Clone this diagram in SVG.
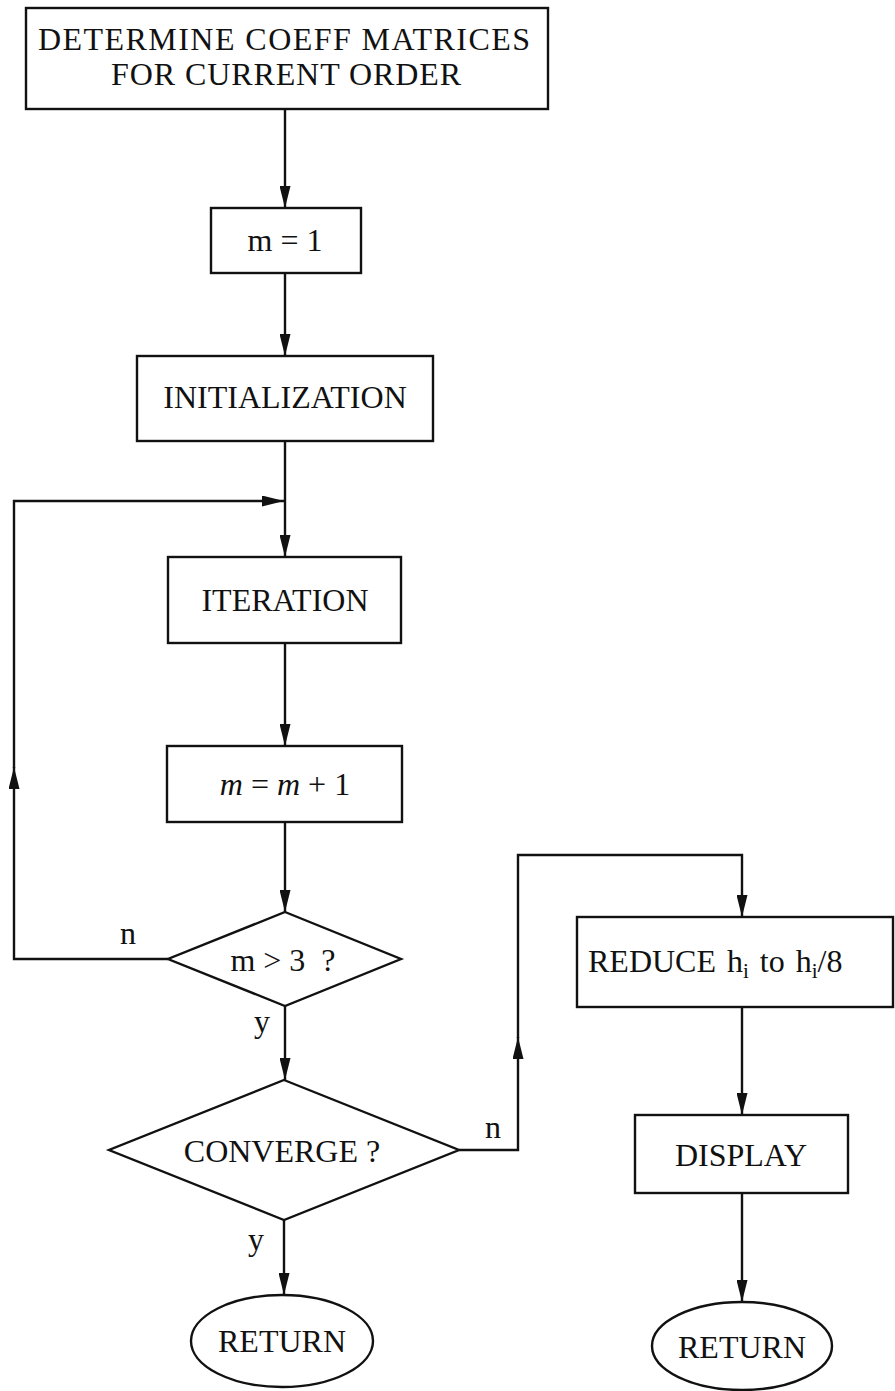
<svg xmlns="http://www.w3.org/2000/svg" width="895" height="1391" viewBox="0 0 895 1391">
<defs>
<style>
.box{fill:#fff;stroke:#111;stroke-width:2.4}
.ln{fill:none;stroke:#111;stroke-width:2.4}
.t{font-family:"Liberation Serif","Times New Roman",serif;font-size:32px;fill:#111;text-anchor:middle}
.lb{font-family:"Liberation Serif","Times New Roman",serif;font-size:32px;fill:#111}
.sub{font-size:21px}
</style>
<marker id="ah" markerUnits="userSpaceOnUse" markerWidth="22" markerHeight="11" viewBox="0 0 22 11" refX="22" refY="5.5" orient="auto">
<path d="M0,0 L22,5.5 L0,11 z" fill="#111"/>
</marker>
</defs>
<rect width="895" height="1391" fill="#fff"/>

<g id="connectors">
<line class="ln" x1="285" y1="109" x2="285" y2="208" marker-end="url(#ah)"/>
<line class="ln" x1="285" y1="273" x2="285" y2="356" marker-end="url(#ah)"/>
<line class="ln" x1="285" y1="441" x2="285" y2="557" marker-end="url(#ah)"/>
<polyline class="ln" points="168,959 14,959 14,767" marker-end="url(#ah)"/>
<polyline class="ln" points="14,768 14,501 284,501" marker-end="url(#ah)"/>
<line class="ln" x1="285" y1="643" x2="285" y2="746" marker-end="url(#ah)"/>
<line class="ln" x1="285" y1="822" x2="285" y2="912" marker-end="url(#ah)"/>
<line class="ln" x1="285" y1="1006" x2="285" y2="1080" marker-end="url(#ah)"/>
<polyline class="ln" points="459,1150 518,1150 518,1037" marker-end="url(#ah)"/>
<polyline class="ln" points="518,1038 518,855 742,855 742,917" marker-end="url(#ah)"/>
<line class="ln" x1="742" y1="1007" x2="742" y2="1115" marker-end="url(#ah)"/>
<line class="ln" x1="742" y1="1193" x2="742" y2="1302" marker-end="url(#ah)"/>
<line class="ln" x1="284" y1="1220" x2="284" y2="1295" marker-end="url(#ah)"/>
<text class="lb" x="120" y="944">n</text>
<text class="lb" x="254" y="1032">y</text>
<text class="lb" x="485" y="1138">n</text>
<text class="lb" x="248" y="1250">y</text>
</g>

<g id="determine">
<rect class="box" x="26" y="8" width="522" height="101"/>
<text class="t" x="284" y="50" textLength="492" lengthAdjust="spacing">DETERMINE COEFF MATRICES</text>
<text class="t" x="286" y="85" textLength="350" lengthAdjust="spacing">FOR CURRENT ORDER</text>
</g>

<g id="m1">
<rect class="box" x="211" y="208" width="150" height="65"/>
<text class="t" x="285" y="251">m = 1</text>
</g>

<g id="init">
<rect class="box" x="137" y="356" width="296" height="85"/>
<text class="t" x="285" y="408">INITIALIZATION</text>
</g>

<g id="iteration">
<rect class="box" x="168" y="557" width="233" height="86"/>
<text class="t" x="285" y="611">ITERATION</text>
</g>

<g id="mplus">
<rect class="box" x="167" y="746" width="235" height="76"/>
<text class="t" x="285" y="795"><tspan font-style="italic">m</tspan> = <tspan font-style="italic">m</tspan> + 1</text>
</g>

<g id="mgt3">
<polygon class="box" points="285,912 401,959 285,1006 168,959"/>
<text class="t" x="283" y="971" xml:space="preserve">m &gt; 3  ?</text>
</g>

<g id="converge">
<polygon class="box" points="284,1080 459,1150 284,1220 109,1150"/>
<text class="t" x="282" y="1162">CONVERGE ?</text>
</g>

<g id="return1">
<ellipse class="box" cx="282" cy="1341" rx="91" ry="46"/>
<text class="t" x="282" y="1352">RETURN</text>
</g>

<g id="reduce">
<rect class="box" x="577" y="917" width="316" height="90"/>
<text class="lb" x="588" y="972" word-spacing="3">REDUCE h<tspan class="sub" dy="6">i</tspan><tspan dy="-6"> to h</tspan><tspan class="sub" dy="6">i</tspan><tspan dy="-6">/8</tspan></text>
</g>

<g id="display">
<rect class="box" x="635" y="1115" width="213" height="78"/>
<text class="t" x="741" y="1166">DISPLAY</text>
</g>

<g id="return2">
<ellipse class="box" cx="742" cy="1346" rx="90" ry="44"/>
<text class="t" x="742" y="1358">RETURN</text>
</g>
</svg>
